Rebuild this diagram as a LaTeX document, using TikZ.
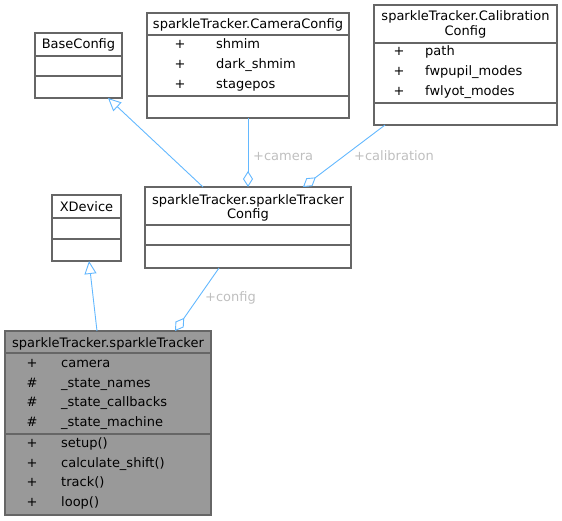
\documentclass[tikz,border=0pt]{standalone}
\usepackage{fontspec}
\setmainfont{DejaVu Sans}
\usetikzlibrary{arrows.meta}

\definecolor{edgeblue}{HTML}{63B8FF}
\definecolor{boxline}{HTML}{666666}
\definecolor{lblgrey}{HTML}{BFBFBF}
\definecolor{mainfill}{HTML}{999999}

\tikzset{
  classbox/.style={draw=boxline, line width=1.2pt, fill=white, anchor=north west, inner sep=0pt, outer sep=0pt},
  divider/.style={draw=boxline, line width=1.2pt},
  title/.style={anchor=base, inner sep=0pt, font=\fontsize{13}{15}\selectfont},
  vis/.style={anchor=base, inner sep=0pt, font=\fontsize{13}{15}\selectfont},
  member/.style={anchor=base west, inner sep=0pt, font=\fontsize{13}{15}\selectfont},
  edgelabel/.style={anchor=base west, inner sep=0pt, text=lblgrey, font=\fontsize{13}{15}\selectfont},
  inherit/.style={draw=edgeblue, line width=0.9pt, -{Triangle[open, length=13pt, width=12pt, fill=white]}},
  aggreg/.style={draw=edgeblue, line width=0.9pt, -{Diamond[open, length=16pt, width=10pt, fill=white]}}
}

\begin{document}
\begin{tikzpicture}[x=1pt,y=-1pt]
\useasboundingbox (0,0) rectangle (562,521);

% BaseConfig
\node[classbox, minimum width=87pt, minimum height=65pt] (base) at (35,33) {};
\node[title] (baseT) at (78.5,49) {BaseConfig};
\draw[divider] (base.west |- 0,56) -- (base.east |- 0,56);
\draw[divider] (base.west |- 0,76) -- (base.east |- 0,76);

% sparkleTracker.CameraConfig
\node[classbox, minimum width=202pt, minimum height=105pt] (camcfg) at (147,13) {};
\node[title] (camcfgT) at (248,29) {sparkleTracker.CameraConfig};
\draw[divider] (camcfg.west |- 0,35) -- (camcfg.east |- 0,35);
\draw[divider] (camcfg.west |- 0,96) -- (camcfg.east |- 0,96);
\node[vis] (camV1) at (180,49) {+};
\node[member] (camM1) at (216,49) {shmim};
\node[vis] (camV2) at (180,69) {+};
\node[member] (camM2) at (216,69) {dark\_shmim};
\node[vis] (camV3) at (180,89) {+};
\node[member] (camM3) at (216,89) {stagepos};

% sparkleTracker.CalibrationConfig
\node[classbox, minimum width=183pt, minimum height=120pt] (calibcfg) at (374,5) {};
\node[title] (calibT1) at (465.5,21) {sparkleTracker.Calibration};
\node[title] (calibT2) at (465.5,35.5) {Config};
\draw[divider] (calibcfg.west |- 0,43) -- (calibcfg.east |- 0,43);
\draw[divider] (calibcfg.west |- 0,103) -- (calibcfg.east |- 0,103);
\node[vis] (calV1) at (399,56) {+};
\node[member] (calM1) at (425,56) {path};
\node[vis] (calV2) at (399,76) {+};
\node[member] (calM2) at (425,76) {fwpupil\_modes};
\node[vis] (calV3) at (399,95.5) {+};
\node[member] (calM3) at (425,95.5) {fwlyot\_modes};

% XDevice
\node[classbox, minimum width=69pt, minimum height=66pt] (xdev) at (52,195) {};
\node[title] (xdevT) at (86.5,212) {XDevice};
\draw[divider] (xdev.west |- 0,218) -- (xdev.east |- 0,218);
\draw[divider] (xdev.west |- 0,239) -- (xdev.east |- 0,239);

% sparkleTracker.sparkleTrackerConfig
\node[classbox, minimum width=206pt, minimum height=81pt] (trkcfg) at (145,187) {};
\node[title] (trkcfgT1) at (248,204.5) {sparkleTracker.sparkleTracker};
\node[title] (trkcfgT2) at (248,218.5) {Config};
\draw[divider] (trkcfg.west |- 0,225) -- (trkcfg.east |- 0,225);
\draw[divider] (trkcfg.west |- 0,245) -- (trkcfg.east |- 0,245);

% sparkleTracker.sparkleTracker
\node[classbox, fill=mainfill, minimum width=206pt, minimum height=184pt] (trk) at (5,331) {};
\node[title] (trkT) at (108,347) {sparkleTracker.sparkleTracker};
\draw[divider] (trk.west |- 0,353) -- (trk.east |- 0,353);
\draw[divider] (trk.west |- 0,434) -- (trk.east |- 0,434);
\node[vis] (trkV1) at (32,367) {+};
\node[member] (trkM1) at (61,367) {camera};
\node[vis] (trkV2) at (32,387) {\#};
\node[member] (trkM2) at (61,387) {\_state\_names};
\node[vis] (trkV3) at (32,406.5) {\#};
\node[member] (trkM3) at (61,406.5) {\_state\_callbacks};
\node[vis] (trkV4) at (32,426) {\#};
\node[member] (trkM4) at (61,426) {\_state\_machine};
\node[vis] (trkV5) at (32,447) {+};
\node[member] (trkM5) at (61,447) {setup()};
\node[vis] (trkV6) at (32,467) {+};
\node[member] (trkM6) at (61,467) {calculate\_shift()};
\node[vis] (trkV7) at (32,486.5) {+};
\node[member] (trkM7) at (61,486.5) {track()};
\node[vis] (trkV8) at (32,506) {+};
\node[member] (trkM8) at (61,506) {loop()};

% relations
\draw[inherit] ([xshift=-45pt]trkcfg.north) -- ([xshift=29.5pt]base.south);
\draw[aggreg] (camcfg.south) -- (trkcfg.north);
\draw[aggreg] ([xshift=-80.5pt]calibcfg.south) -- ([xshift=55pt]trkcfg.north);
\draw[inherit] ([xshift=-11pt]trk.north) -- ([xshift=2.5pt]xdev.south);
\draw[aggreg] ([xshift=-29pt]trkcfg.south) -- ([xshift=67pt]trk.north);
\node[edgelabel] (lblcam) at (253,160.5) {+camera};
\node[edgelabel] (lblcal) at (354,160.5) {+calibration};
\node[edgelabel] (lblcfg) at (205,301.5) {+config};
\end{tikzpicture}
\end{document}
